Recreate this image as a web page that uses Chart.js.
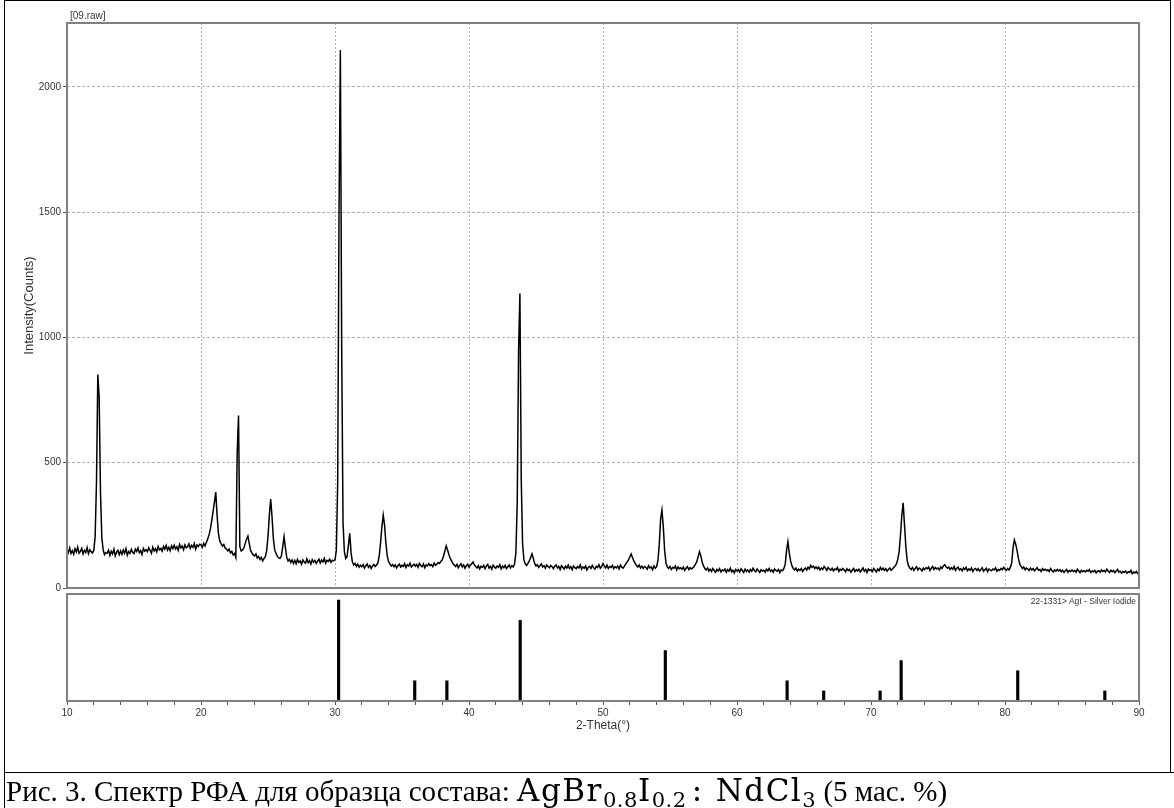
<!DOCTYPE html>
<html>
<head>
<meta charset="utf-8">
<script src="https://cdn.jsdelivr.net/npm/chart.js@4.4.1/dist/chart.umd.min.js"></script>
<style>
  html, body { margin: 0; padding: 0; background: #fff; }
  #page { position: relative; width: 1174px; height: 808px; overflow: hidden; font-family: "Liberation Sans", Arial, sans-serif; }
  #frame { position: absolute; left: 4px; top: 0; width: 1167px; height: 773px; border: 1px solid #000; border-bottom: none; box-sizing: border-box; }
  #sep { position: absolute; left: 4px; top: 772px; width: 1170px; border-top: 1px solid #000; }
  #capLeft { position: absolute; left: 4px; top: 772px; height: 36px; border-left: 1px solid #000; }
  #caption { position: absolute; left: 6px; top: 776px; line-height: 29px; font-family: "Liberation Serif", "Times New Roman", serif; font-size: 29px; white-space: nowrap; color: #000; }
  #caption .f { font-family: "DejaVu Serif", serif; font-size: 31px; letter-spacing: 1.5px; }
  #caption .c { margin: 0 12px 0 5px; }
  #caption sub { font-size: 0.68em; vertical-align: -0.3em; line-height: 0; letter-spacing: 0.5px; }
  canvas { position: absolute; left: 0; }
  #pattern { top: 0; }
  #sticks { top: 580px; }
  .lbl { position: absolute; font-size: 10px; color: #333; white-space: nowrap; }
</style>
</head>
<body>
<div id="page">
  <canvas id="pattern" width="1174" height="600"></canvas>
  <canvas id="sticks" width="1174" height="160"></canvas>
  <div class="lbl" style="left:70px; top:10px;">[09.raw]</div>
  <div class="lbl" style="right:38px; top:596px; font-size:8.5px;">22-1331&gt; AgI - Silver Iodide</div>
  <div id="frame"></div>
  <div id="sep"></div>
  <div id="capLeft"></div>
  <div id="caption">Рис. 3. Спектр РФА для образца состава: <span class="f">AgBr<sub>0.8</sub>I<sub>0.2</sub><span class="c">:</span>NdCl<sub>3</sub></span> (5 мас. %)</div>
</div>
<script>
// scan: 2-theta from 10 to 90 deg, step 0.1 deg
const scanStart = 10;
const scanStep = 0.1;

// measured intensity, one row per degree (x.0 ... x.9)
const counts = [
  152, 141, 160, 138, 149, 135, 157, 144, 163, 139,   // 10
  146, 158, 136, 150, 142, 161, 137, 153, 145, 140,   // 11
  150, 205, 420, 852, 760, 380, 200, 152, 133, 141,   // 12
  139, 151, 130, 147, 136, 155, 128, 143, 150, 133,   // 13
  148, 135, 152, 139, 157, 131, 146, 138, 154, 142,   // 14
  137, 155, 146, 160, 141, 149, 134, 158, 147, 153,   // 15
  145, 161, 150, 139, 163, 148, 157, 144, 166, 152,   // 16
  158, 147, 166, 155, 170, 151, 162, 149, 168, 157,   // 17
  171, 156, 165, 150, 174, 160, 168, 153, 172, 161,   // 18
  164, 176, 158, 170, 162, 178, 155, 172, 166, 175,   // 19
  172, 163, 178, 168, 182, 196, 212, 236, 268, 305,   // 20
  342, 383, 292, 218, 188, 176, 168, 174, 160, 156,   // 21
  148, 155, 140, 146, 132, 138, 122, 540, 688, 165,   // 22
  148, 152, 160, 178, 195, 207, 178, 150, 140, 132,   // 23
  128, 136, 120, 126, 114, 122, 108, 118, 125, 148,   // 24
  205, 290, 355, 285, 198, 152, 138, 126, 120, 118,   // 25
  128, 165, 205, 160, 122, 108, 115, 102, 112, 98,    // 26
  110, 97, 114, 102, 108, 95, 112, 104, 99, 116,      // 27
  101, 109, 96, 113, 103, 110, 98, 107, 115, 100,     // 28
  112, 104, 118, 99, 110, 106, 115, 102, 111, 108,    // 29
  112, 150, 420, 1500, 2147, 950, 260, 145, 118, 125, // 30
  170, 218, 140, 104, 92, 98, 86, 95, 83, 91,         // 31
  85, 93, 80, 89, 96, 82, 90, 78, 88, 94,             // 32
  86, 92, 100, 128, 180, 245, 291, 250, 178, 128,     // 33
  105, 96, 88, 94, 85, 92, 80, 89, 95, 84,            // 34
  91, 86, 97, 82, 93, 88, 99, 84, 90, 95,             // 35
  87, 94, 83, 98, 90, 85, 96, 81, 92, 88,             // 36
  97, 89, 93, 85, 99, 91, 95, 102, 98, 106,           // 37
  112, 128, 148, 168, 152, 134, 118, 108, 98, 92,     // 38
  86, 94, 81, 90, 97, 84, 92, 79, 88, 95,             // 39
  83, 91, 97, 104, 92, 86, 80, 89, 76, 87,            // 40
  82, 90, 77, 88, 94, 80, 86, 75, 91, 84,             // 41
  79, 88, 83, 93, 76, 87, 81, 90, 78, 85,             // 42
  92, 80, 89, 84, 96, 140, 340, 950, 1175, 430,       // 43
  175, 112, 96, 90, 98, 108, 122, 136, 118, 98,       // 44
  88, 93, 82, 90, 96, 84, 89, 79, 92, 86,             // 45
  81, 90, 85, 77, 88, 92, 80, 86, 74, 89,             // 46
  83, 76, 87, 80, 91, 78, 85, 73, 88, 81,             // 47
  77, 86, 80, 92, 75, 84, 79, 88, 72, 83,             // 48
  86, 78, 90, 81, 76, 87, 82, 93, 79, 85,             // 49
  98, 88, 80, 91, 78, 86, 82, 90, 77, 85,             // 50
  80, 88, 76, 92, 83, 79, 87, 96, 104, 112,           // 51
  124, 136, 122, 108, 98, 90, 84, 92, 80, 87,         // 52
  78, 86, 82, 75, 89, 80, 84, 73, 88, 79,             // 53
  85, 110, 175, 275, 311, 245, 150, 100, 84, 78,      // 54
  86, 74, 82, 79, 88, 72, 84, 77, 81, 75,             // 55
  83, 70, 79, 85, 74, 81, 76, 80, 86, 95,             // 56
  105, 125, 145, 128, 104, 88, 78, 72, 80, 68,        // 57
  75, 66, 78, 70, 63, 74, 68, 77, 64, 72,             // 58
  69, 76, 62, 73, 67, 79, 65, 71, 60, 74,             // 59
  68, 73, 64, 77, 70, 62, 75, 66, 72, 63,             // 60
  74, 67, 79, 70, 65, 76, 69, 62, 73, 68,             // 61
  71, 64, 75, 68, 78, 66, 72, 63, 76, 70,             // 62
  67, 74, 62, 72, 69, 78, 95, 150, 185, 140,          // 63
  108, 88, 78, 72, 80, 68, 75, 70, 78, 66,            // 64
  74, 80, 71, 83, 76, 90, 82, 87, 78, 84,             // 65
  77, 83, 72, 80, 74, 86, 79, 70, 82, 75,             // 66
  71, 79, 68, 76, 73, 82, 66, 75, 70, 78,             // 67
  72, 65, 77, 69, 74, 63, 71, 78, 66, 73,             // 68
  68, 75, 64, 72, 80, 67, 74, 62, 76, 70,             // 69
  73, 66, 78, 71, 64, 76, 69, 82, 72, 79,             // 70
  70, 77, 67, 74, 80, 71, 76, 82, 88, 96,             // 71
  115, 145, 210, 290, 340, 252, 165, 110, 88, 80,     // 72
  74, 82, 70, 78, 85, 72, 80, 76, 68, 79,             // 73
  73, 81, 77, 84, 70, 79, 86, 74, 82, 76,             // 74
  80, 72, 84, 78, 88, 93, 85, 79, 83, 74,             // 75
  81, 75, 86, 70, 79, 83, 72, 77, 68, 80,             // 76
  74, 82, 69, 76, 71, 80, 66, 75, 78, 70,             // 77
  77, 68, 74, 81, 67, 73, 79, 65, 76, 71,             // 78
  69, 76, 72, 80, 67, 74, 70, 78, 73, 82,             // 79
  75, 70, 78, 72, 82, 100, 160, 192, 175, 150,        // 80
  118, 96, 86, 78, 84, 73, 80, 76, 70, 79,            // 81
  72, 78, 68, 75, 81, 70, 74, 66, 77, 71,             // 82
  75, 69, 73, 66, 78, 70, 64, 72, 67, 74,             // 83
  68, 73, 65, 71, 62, 69, 74, 63, 70, 66,             // 84
  72, 66, 70, 63, 75, 68, 61, 71, 65, 69,             // 85
  64, 71, 67, 73, 62, 68, 65, 70, 60, 67,             // 86
  69, 63, 72, 66, 70, 64, 75, 68, 62, 71,             // 87
  65, 70, 61, 68, 74, 63, 67, 60, 66, 62,             // 88
  68, 59, 65, 62, 70, 57, 64, 60, 66, 58,             // 89
  62                                                  // 90
];

// reference card 22-1331 (AgI): line positions and relative intensities
const stickTheta = [30.27, 35.95, 38.35, 43.82, 54.65, 63.74, 66.47, 70.68, 72.25, 80.95, 87.45];
const stickIntensity = [100, 20, 20, 80, 50, 20, 10, 10, 40, 30, 10];

const intensityTicks = [0, 500, 1000, 1500, 2000];
const thetaTicks = [10, 20, 30, 40, 50, 60, 70, 80, 90];

const axisFont = { family: '"Liberation Sans", Arial, sans-serif', size: 10 };
const gridGrey = '#b0b0b0';

// grey box round each plot area
const panelFrame = {
  id: 'panelFrame',
  afterDraw(chart) {
    const { ctx, chartArea: a } = chart;
    ctx.save();
    ctx.strokeStyle = '#808080';
    ctx.lineWidth = 2;
    ctx.strokeRect(a.left, a.top, a.right - a.left, a.bottom - a.top);
    ctx.restore();
  }
};

const points = counts.map((c, i) => ({ x: scanStart + i * scanStep, y: c }));

new Chart(document.getElementById('pattern'), {
  type: 'line',
  data: {
    datasets: [{
      data: points,
      borderColor: '#000',
      borderWidth: 1.5,
      pointRadius: 0,
      tension: 0
    }]
  },
  options: {
    responsive: false,
    animation: false,
    events: [],
    layout: { padding: { left: 19, right: 35, top: 23, bottom: 12 } },
    plugins: { legend: { display: false }, tooltip: { enabled: false } },
    scales: {
      x: {
        type: 'linear',
        min: 10,
        max: 90,
        afterBuildTicks: s => { s.ticks = thetaTicks.map(v => ({ value: v })); },
        afterFit: s => { s.height = 0; },
        ticks: { display: false },
        grid: { color: gridGrey, drawTicks: false },
        border: { display: false, dash: [2, 2] }
      },
      y: {
        min: 0,
        max: 2255,
        afterBuildTicks: s => { s.ticks = intensityTicks.map(v => ({ value: v })); },
        afterFit: s => { s.width = 48; },
        ticks: { color: '#333', font: axisFont, padding: 2, callback: v => String(v) },
        grid: { color: gridGrey, tickColor: '#555', tickLength: 4 },
        border: { display: false, dash: [3, 2] },
        title: {
          display: true,
          text: 'Intensity(Counts)',
          color: '#333',
          font: { family: axisFont.family, size: 13 },
          padding: { top: 3, bottom: 0 }
        }
      }
    }
  },
  plugins: [panelFrame]
});

new Chart(document.getElementById('sticks'), {
  type: 'bar',
  data: {
    datasets: [{
      data: stickTheta.map((t, i) => ({ x: t, y: stickIntensity[i] })),
      backgroundColor: '#000',
      barThickness: 2.5
    }]
  },
  options: {
    responsive: false,
    animation: false,
    events: [],
    layout: { padding: { left: 67, right: 35, top: 14, bottom: 3 } },
    plugins: { legend: { display: false }, tooltip: { enabled: false } },
    scales: {
      x: {
        type: 'linear',
        min: 10,
        max: 90,
        offset: false,
        afterBuildTicks: s => {
          const t = [];
          for (let v = 10; v <= 90; v += 2) t.push({ value: v });
          s.ticks = t;
        },
        afterFit: s => { s.height = 36; },
        ticks: {
          autoSkip: false,
          maxRotation: 0,
          color: '#333',
          font: axisFont,
          padding: 2,
          callback: v => thetaTicks.includes(v) ? String(v) : ''
        },
        grid: { offset: false, drawOnChartArea: false, tickLength: 4, tickColor: '#555' },
        border: { display: false },
        title: {
          display: true,
          text: '2-Theta(°)',
          color: '#333',
          font: { family: axisFont.family, size: 12 },
          padding: { top: 0, bottom: 4 }
        }
      },
      y: { display: false, min: 0, max: 106 }
    }
  },
  plugins: [panelFrame]
});
</script>
</body>
</html>
